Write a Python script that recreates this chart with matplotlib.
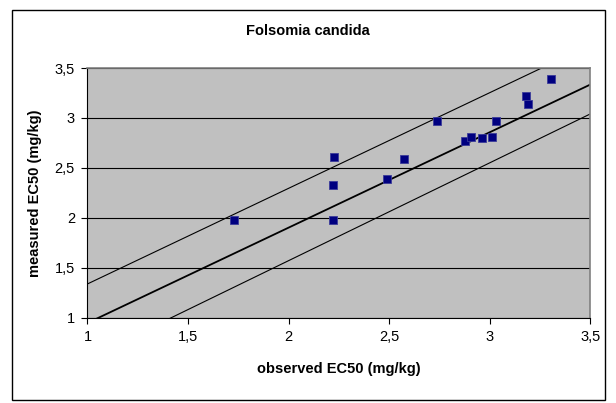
import numpy as np
import matplotlib.pyplot as plt
from matplotlib.patches import Rectangle
from matplotlib.ticker import FuncFormatter

plt.rcParams['font.family'] = ['Liberation Sans', 'DejaVu Sans']

# observed vs measured EC50 (log mg/kg)
observed = [1.73, 2.226, 2.219, 2.219, 2.491, 2.574, 2.737, 2.878, 2.906,
            2.962, 3.012, 3.030, 3.180, 3.191, 3.305]
measured = [1.981, 2.613, 2.332, 1.981, 2.392, 2.590, 2.971, 2.770, 2.810,
            2.797, 2.813, 2.971, 3.222, 3.138, 3.392]

# reference lines: (slope, intercept)
line_mid = (0.9555, -0.010)
line_upper = (0.958, 0.379)
line_lower = (0.980, -0.390)

fig = plt.figure(figsize=(6.16, 4.03), dpi=100)
ax = fig.add_axes([0.142, 0.212, 0.816, 0.619])
ax.set_facecolor('#c0c0c0')

xs = np.array([1.0, 3.5])
for (b, a), lw in [(line_upper, 0.8), (line_mid, 1.3), (line_lower, 0.8)]:
    ax.plot(xs, a + b * xs, color='black', lw=lw, zorder=2)

ax.plot(observed, measured, 's', color='#000080', mec='#3a3a9a', mew=0.6,
        ms=6.3, zorder=3, clip_on=False)

ax.set_xlim(1, 3.5)
ax.set_ylim(1, 3.5)
ax.set_xticks(np.arange(1, 3.51, 0.5))
ax.set_yticks(np.arange(1, 3.51, 0.5))
fmt = FuncFormatter(lambda v, p: ('%g' % v).replace('.', ','))
ax.xaxis.set_major_formatter(fmt)
ax.yaxis.set_major_formatter(fmt)
ax.tick_params(direction='out', length=4, width=0.8, labelsize=10.5, pad=5)
ax.grid(axis='y', color='black', lw=0.8, zorder=1)
ax.set_axisbelow(True)

for s in ['top', 'right']:
    ax.spines[s].set_color('#808080')
    ax.spines[s].set_linewidth(1.2)
for s in ['left', 'bottom']:
    ax.spines[s].set_color('black')
    ax.spines[s].set_linewidth(0.8)

ax.set_xlabel('observed EC50 (mg/kg)', fontsize=10.5, fontweight='bold', labelpad=13)
ax.set_ylabel('measured EC50 (mg/kg)', fontsize=10.5, fontweight='bold', labelpad=9)
fig.text(0.5, 0.922, 'Folsomia candida', ha='center', va='center',
         fontsize=10.5, fontweight='bold')

fig.add_artist(Rectangle((12 / 616, 1 - 400 / 403), 593 / 616, 390 / 403,
                         transform=fig.transFigure, fill=False,
                         edgecolor='black', lw=1))

plt.savefig('out.png', dpi=100)
